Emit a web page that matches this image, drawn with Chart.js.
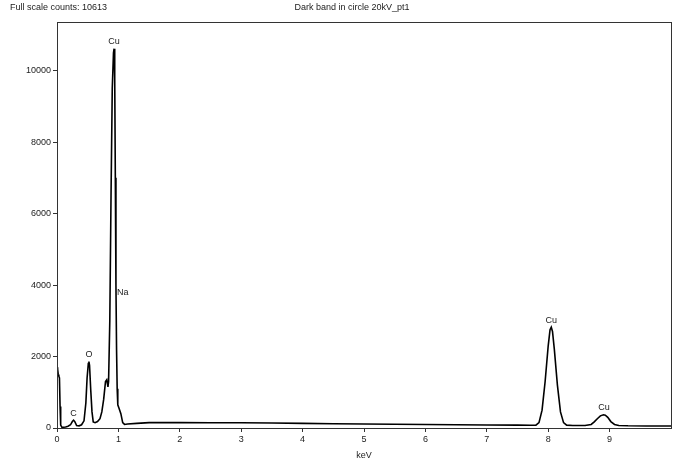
<!DOCTYPE html>
<html>
<head>
<meta charset="utf-8">
<script src="https://cdn.jsdelivr.net/npm/chart.js@4/dist/chart.umd.min.js"></script>
<style>
html,body{margin:0;padding:0;background:#fff;}
#wrap{width:678px;height:463px;position:relative;}
</style>
</head>
<body>
<div id="wrap"><canvas id="c" width="678" height="463"></canvas></div>
<script>
// Spectrum
const energyKeV = [0.00,0.01,0.02,0.03,0.04,0.05,0.06,0.08,0.10,0.14,0.18,0.22,0.25,0.27,0.29,0.32,0.36,0.40,0.44,0.47,0.49,0.51,0.52,0.53,0.55,0.57,0.59,0.62,0.66,0.70,0.73,0.76,0.79,0.81,0.82,0.83,0.84,0.86,0.88,0.90,0.92,0.93,0.94,0.95,0.96,0.97,0.98,0.99,1.01,1.04,1.07,1.10,1.15,1.30,1.50,2.00,2.50,3.00,3.50,4.00,4.50,5.00,5.50,6.00,6.50,7.00,7.50,7.70,7.80,7.85,7.90,7.95,8.00,8.03,8.05,8.07,8.10,8.15,8.20,8.25,8.30,8.40,8.50,8.60,8.70,8.75,8.80,8.85,8.90,8.93,8.97,9.02,9.08,9.15,9.30,9.60,10.00];
const counts    = [1700,1650,1500,1450,1400,600,80,20,20,30,50,90,180,220,180,70,60,90,200,700,1400,1800,1860,1750,1050,450,170,150,180,260,450,800,1300,1350,1250,1150,1300,3000,6500,9500,10500,10613,9800,7000,4000,2200,1100,650,550,400,150,100,110,130,150,150,148,145,140,130,120,110,105,100,92,85,80,78,80,150,500,1300,2300,2750,2820,2700,2200,1200,450,150,80,70,70,70,100,170,260,340,370,360,300,180,100,70,62,58,55];
const peakNames  = ['Cu','Na','O','C','Cu','Cu'];
const peakEnergy = [0.93,1.07,0.52,0.27,8.05,8.91];
const peakCounts = [10613,3780,1860,220,2820,365];
const yTicks = [0,2000,4000,6000,8000,10000];
const xTicks = [0,1,2,3,4,5,6,7,8,9];
const fullScale = 10613;
const titleText = 'Dark band in circle 20kV_pt1';

const FONT = '"Liberation Sans", Arial, sans-serif';

const extras = {
  id: 'extras',
  afterDraw(chart) {
    const ctx = chart.ctx, a = chart.chartArea;
    const xs = chart.scales.x, ys = chart.scales.y;
    ctx.save();
    ctx.strokeStyle = '#333';
    ctx.lineWidth = 1;
    ctx.strokeRect(Math.round(a.left) + 0.5, Math.round(a.top) + 0.5, Math.round(a.right - a.left), Math.round(a.bottom - a.top));
    ctx.fillStyle = '#222';
    ctx.font = '9px ' + FONT;
    ctx.textBaseline = 'middle';
    ctx.textAlign = 'left';
    ctx.fillText('Full scale counts: ' + fullScale, 10, 8);
    ctx.textAlign = 'center';
    ctx.fillText(titleText, 352, 8);
    for (let i = 0; i < peakNames.length; i++) {
      const px = xs.getPixelForValue(peakEnergy[i]);
      const py = ys.getPixelForValue(peakCounts[i]);
      if (peakNames[i] === 'Na') {
        ctx.fillText(peakNames[i], px, py);
      } else {
        ctx.fillText(peakNames[i], px, py - 7);
      }
    }
    ctx.restore();
  }
};

const pts = energyKeV.map((e, i) => ({x: e, y: counts[i]}));

new Chart(document.getElementById('c'), {
  type: 'line',
  data: { datasets: [{ data: pts, borderColor: '#000', borderWidth: 1.6, pointRadius: 0, tension: 0, fill: false }] },
  options: {
    responsive: false,
    animation: false,
    layout: { padding: { left: 0, right: 7, top: 22, bottom: 0 } },
    plugins: { legend: { display: false }, tooltip: { enabled: false } },
    scales: {
      x: {
        type: 'linear', min: 0, max: 10,
        afterBuildTicks(s) { s.ticks = xTicks.map(v => ({value: v})); },
        afterFit(s) { s.height = 35; },
        ticks: { color: '#222', font: { family: FONT, size: 9 }, padding: 2, maxRotation: 0, autoSkip: false, callback: v => String(v) },
        grid: { display: true, drawOnChartArea: false, drawTicks: true, tickLength: 4, color: '#333' },
        border: { display: true, color: '#333' },
        title: { display: true, text: 'keV', color: '#222', font: { family: FONT, size: 9 }, padding: { top: 4, bottom: 2 } }
      },
      y: {
        type: 'linear', min: 0, max: 11360,
        afterBuildTicks(s) { s.ticks = yTicks.map(v => ({value: v})); },
        afterFit(s) { s.width = 57; },
        ticks: { color: '#222', font: { family: FONT, size: 9 }, padding: 2, callback: v => String(v) },
        grid: { display: true, drawOnChartArea: false, drawTicks: true, tickLength: 4, color: '#333' },
        border: { display: true, color: '#333' }
      }
    }
  },
  plugins: [extras]
});
</script>
</body>
</html>
